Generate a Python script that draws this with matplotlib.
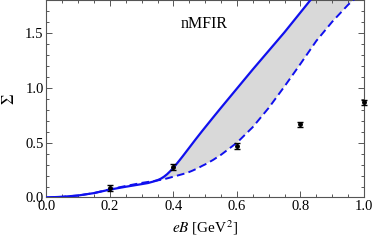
import numpy as np
import matplotlib
matplotlib.use("Agg")
import matplotlib.pyplot as plt
from matplotlib.ticker import MultipleLocator, FormatStrFormatter

# data
eB = [0.0, 0.05, 0.1, 0.15, 0.2, 0.25, 0.3, 0.32, 0.34, 0.35, 0.36, 0.37, 0.38,
      0.39, 0.4, 0.41, 0.42, 0.43, 0.44, 0.45, 0.46, 0.47, 0.48, 0.49, 0.5,
      0.525, 0.55, 0.6, 0.65, 0.7, 0.75, 0.8, 0.85, 0.9, 0.95, 1.0]
sigma_upper = [0.0, 0.006, 0.018, 0.04, 0.072, 0.098, 0.122, 0.132, 0.148, 0.158,
               0.171, 0.189, 0.212, 0.24, 0.272, 0.306, 0.342, 0.379, 0.417,
               0.455, 0.493, 0.531, 0.568, 0.605, 0.641, 0.731, 0.82, 0.995,
               1.17, 1.34, 1.51, 1.69, 1.87, 2.05, 2.22, 2.4]
sigma_lower = [0.0, 0.006, 0.018, 0.04, 0.075, 0.105, 0.133, 0.142, 0.151, 0.156,
               0.161, 0.167, 0.174, 0.182, 0.19, 0.198, 0.206, 0.214, 0.223,
               0.233, 0.245, 0.258, 0.272, 0.288, 0.302, 0.343, 0.39, 0.5,
               0.643, 0.818, 1.015, 1.22, 1.43, 1.605, 1.76, 1.89]

lat_eB = [0.2, 0.4, 0.6, 0.8, 1.0]
lat_sigma = [0.085, 0.28, 0.47, 0.668, 0.87]
lat_err = [0.03, 0.03, 0.03, 0.025, 0.025]

plt.rcParams['font.family'] = ['Liberation Serif', 'DejaVu Serif']
plt.rcParams['mathtext.fontset'] = 'stix'
plt.rcParams['font.size'] = 10.5

fig = plt.figure(figsize=(3.74, 2.45), dpi=100)
ax = fig.add_axes([0.124, 0.194, 0.849, 0.804])

x = np.array(eB)
up = np.array(sigma_upper)
lo = np.array(sigma_lower)
ax.fill_between(x, lo, up, where=x >= 0.33, interpolate=True,
                color='#d9d9d9', linewidth=0, zorder=1)
ax.plot(x, up, color='#1010ee', lw=1.6, zorder=3, solid_joinstyle='round')
ax.plot(x, lo, color='#1010ee', lw=1.4, ls=(0, (4, 2.2)), zorder=3)

ax.errorbar(lat_eB, lat_sigma, yerr=lat_err, fmt='o', ms=2.5, color='black',
            ecolor='black', elinewidth=1.0, capsize=2.2, capthick=1.0,
            zorder=4, clip_on=False)

ax.text(0.496, 1.585, 'nMFIR', fontsize=11.5, ha='center', va='center')

ax.set_xlim(0, 1.0)
ax.set_ylim(0, 1.8)
ax.xaxis.set_major_locator(MultipleLocator(0.2))
ax.xaxis.set_minor_locator(MultipleLocator(0.05))
ax.yaxis.set_major_locator(MultipleLocator(0.5))
ax.yaxis.set_minor_locator(MultipleLocator(0.1))
ax.xaxis.set_major_formatter(FormatStrFormatter('%.1f'))
ax.yaxis.set_major_formatter(FormatStrFormatter('%.1f'))
ax.tick_params(which='both', direction='in', top=True, right=True,
               color='#555555', width=0.7)
ax.tick_params(which='major', length=4, pad=2)
ax.tick_params(which='minor', length=2.2)
for s in ax.spines.values():
    s.set_color('#555555')
    s.set_linewidth(0.8)

ax.set_xlabel(r'$eB$ [GeV$^2$]', fontsize=11, labelpad=4)
ax.set_ylabel(r'$\Sigma$', fontsize=12, labelpad=5)

fig.savefig('out.png', dpi=100)
